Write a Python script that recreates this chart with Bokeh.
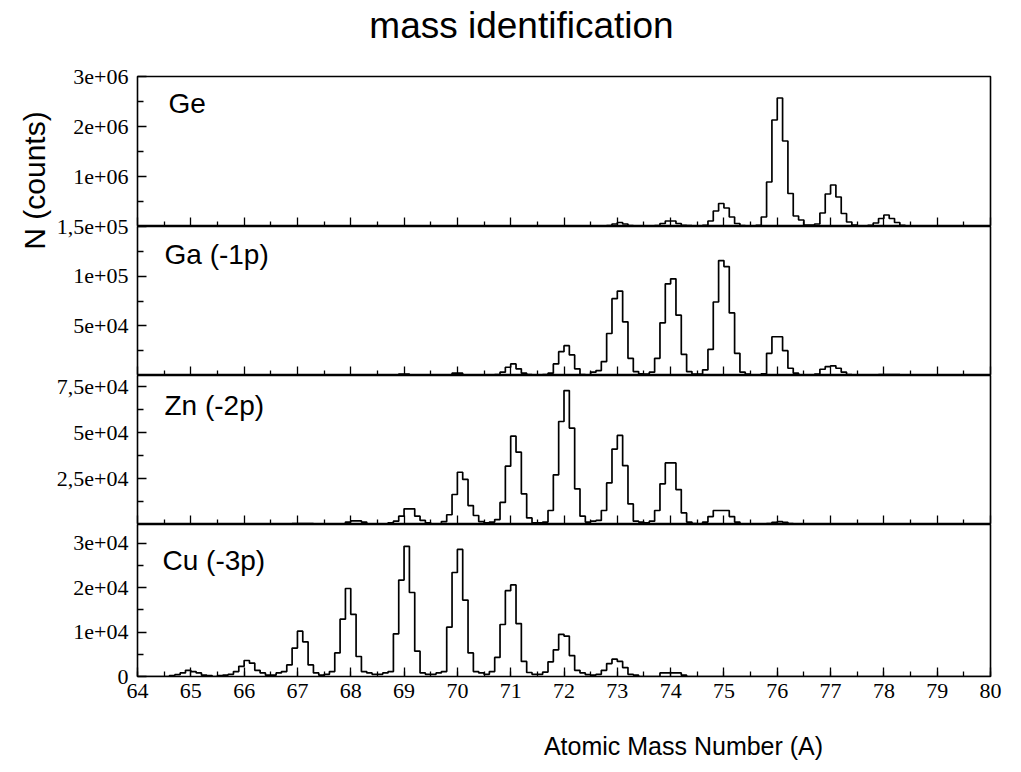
import numpy as np
from bokeh.plotting import figure
from bokeh.models import (Range1d, FixedTicker, SingleIntervalTicker, Label,
                          LinearAxis, ColumnDataSource)
from bokeh.layouts import column, row
from bokeh.embed import file_html
from bokeh.resources import INLINE

# ---------------- data ----------------
TITLE = "mass identification"
X_LABEL = "Atomic Mass Number (A)"
Y_LABEL = "N (counts)"
X_START, X_END = 64, 80

PANEL_NAMES = ["Ge", "Ga (-1p)", "Zn (-2p)", "Cu (-3p)"]
Y_MAX = [3.0e6, 1.5e5, 8.1e4, 3.42e4]

GE_YTICKS = [1e6, 2e6, 3e6]
GE_YLABELS = ["1e+06", "2e+06", "3e+06"]
GE_YMINOR = [5e5, 1.5e6, 2.5e6]
GA_YTICKS = [5e4, 1e5, 1.5e5]
GA_YLABELS = ["5e+04", "1e+05", "1,5e+05"]
GA_YMINOR = [2.5e4, 7.5e4, 1.25e5]
ZN_YTICKS = [2.5e4, 5e4, 7.5e4]
ZN_YLABELS = ["2,5e+04", "5e+04", "7,5e+04"]
ZN_YMINOR = [1.25e4, 3.75e4, 6.25e4]
CU_YTICKS = [0, 1e4, 2e4, 3e4]
CU_YLABELS = ["0", "1e+04", "2e+04", "3e+04"]
CU_YMINOR = [5e3, 1.5e4, 2.5e4]

# counts per 0.1-wide bin; each list covers bins with left edges A-0.5 ... A+0.4
GE_PEAKS = {
    70: [0, 0, 0, 0, 0, 0, 0, 1e4, 1e4, 1e4],
    71: [1e4, 1e4, 0, 0, 0, 0, 0, 0, 0, 0],
    72: [0, 0, 0, 0, 1e4, 1e4, 1e4, 0, 0, 0],
    73: [0, 0, 1.5e4, 2e4, 5e4, 8e4, 5e4, 2e4, 1e4, 0],
    74: [0, 1e4, 2e4, 6e4, 1.1e5, 1.1e5, 6e4, 2.5e4, 2e4, 0],
    75: [1e4, 2.5e4, 1.1e5, 3.1e5, 4.6e5, 3.7e5, 1.9e5, 6e4, 2e4, 1e4],
    76: [1e4, 2.5e4, 1.9e5, 8.9e5, 2.13e6, 2.57e6, 1.71e6, 6.6e5, 2.1e5, 1.3e5],
    77: [3e4, 3e4, 5e4, 2.7e5, 6.5e5, 8.3e5, 5.9e5, 2.6e5, 9e4, 3e4],
    78: [0, 1e4, 2.5e4, 7e4, 1.6e5, 2.3e5, 1.6e5, 8e4, 2.5e4, 0],
    79: [0, 0, 0, 0, 1.5e4, 1.5e4, 1.5e4, 1.5e4, 0, 0],
}
GA_PEAKS = {
    69: [0, 0, 0, 0, 1.5e3, 1.5e3, 0.7e3, 0.7e3, 0.7e3, 0.7e3],
    70: [0.7e3, 0.7e3, 0.7e3, 0.7e3, 2.3e3, 2.3e3, 0.7e3, 0.7e3, 0.7e3, 0.7e3],
    71: [0.7e3, 0.7e3, 1e3, 3.3e3, 8.3e3, 11.7e3, 6.7e3, 2.3e3, 1e3, 0.5e3],
    72: [0.5e3, 1e3, 2.3e3, 11.7e3, 24e3, 30e3, 20.7e3, 6.7e3, 1e3, 0.5e3],
    73: [3.3e3, 5e3, 14e3, 42.3e3, 77.3e3, 85e3, 54e3, 17.3e3, 4e3, 1.7e3],
    74: [1.3e3, 3.3e3, 17.3e3, 53e3, 92.3e3, 97.3e3, 60.7e3, 21.3e3, 4e3, 1.3e3],
    75: [1.5e3, 5.7e3, 26.3e3, 74e3, 115.7e3, 109.7e3, 63e3, 22.3e3, 3.3e3, 1.3e3],
    76: [0.7e3, 0.7e3, 1.7e3, 22.3e3, 39e3, 39e3, 25e3, 7.3e3, 2.3e3, 0.7e3],
    77: [0.5e3, 0.5e3, 1.3e3, 6.3e3, 9e3, 9.7e3, 7.3e3, 3.3e3, 1e3, 0.5e3],
    78: [0, 0, 0, 0, 1e3, 1e3, 1e3, 1e3, 0, 0],
}
ZN_PEAKS = {
    67: [0, 0, 0, 0, 0.5e3, 0.5e3, 0.5e3, 0.5e3, 0, 0],
    68: [0, 0, 0, 0.4e3, 1.3e3, 2e3, 2e3, 1.3e3, 0.4e3, 0],
    69: [0, 0, 0.9e3, 1.8e3, 4.5e3, 8.5e3, 8.5e3, 4.5e3, 2.2e3, 0.9e3],
    70: [0.4e3, 0.4e3, 1.6e3, 5.3e3, 16.3e3, 28.4e3, 24.5e3, 10.3e3, 4.9e3, 1.6e3],
    71: [0.9e3, 1.3e3, 2.7e3, 12e3, 31.7e3, 48e3, 39.3e3, 16.7e3, 3.6e3, 0.9e3],
    72: [0.9e3, 1.3e3, 7.6e3, 27e3, 56e3, 72.8e3, 52.4e3, 19.4e3, 4.5e3, 1.3e3],
    73: [1.8e3, 2.2e3, 7.6e3, 22.6e3, 41e3, 48.4e3, 32e3, 11.2e3, 1.8e3, 1.3e3],
    74: [0.9e3, 1.8e3, 7.6e3, 22.1e3, 33.5e3, 33.5e3, 19e3, 6.3e3, 1.3e3, 0.5e3],
    75: [0.4e3, 1.3e3, 4.3e3, 7.6e3, 7.6e3, 7.6e3, 4.3e3, 1.3e3, 0.4e3, 0],
    76: [0, 0, 0, 0.5e3, 1.2e3, 1.6e3, 1.2e3, 0.5e3, 0, 0],
}
CU_PEAKS = {
    65: [0, 0.2e3, 0.4e3, 0.8e3, 1.4e3, 1.1e3, 0.8e3, 0.3e3, 0.2e3, 0],
    66: [0.2e3, 0.3e3, 0.5e3, 1.1e3, 2.3e3, 3.6e3, 3e3, 1.4e3, 0.8e3, 0.3e3],
    67: [0.3e3, 0.8e3, 1.1e3, 2.6e3, 6.4e3, 10.2e3, 7.8e3, 2.6e3, 0.8e3, 0.3e3],
    68: [0.5e3, 1.1e3, 5.3e3, 12.9e3, 19.8e3, 14e3, 4.5e3, 1.1e3, 0.8e3, 0.5e3],
    69: [0.5e3, 0.8e3, 1.1e3, 9.6e3, 21.7e3, 29.3e3, 18.9e3, 5.7e3, 0.8e3, 0.5e3],
    70: [0.5e3, 0.8e3, 1.1e3, 11.1e3, 23.4e3, 28.6e3, 17.2e3, 5.3e3, 1.1e3, 0.8e3],
    71: [0.5e3, 1.1e3, 4.3e3, 11.7e3, 19.3e3, 20.6e3, 11.9e3, 3.4e3, 0.9e3, 0.5e3],
    72: [0.5e3, 1e3, 3.3e3, 6e3, 9.5e3, 9.1e3, 4.7e3, 1.4e3, 0.8e3, 0.4e3],
    73: [0.3e3, 0.5e3, 1.4e3, 2.9e3, 3.9e3, 3.4e3, 2e3, 0.5e3, 0.3e3, 0],
    74: [0, 0, 0, 0.8e3, 0.8e3, 0.8e3, 0.8e3, 0.3e3, 0, 0],
}

PEAKS = [GE_PEAKS, GA_PEAKS, ZN_PEAKS, CU_PEAKS]
YTICKS = [GE_YTICKS, GA_YTICKS, ZN_YTICKS, CU_YTICKS]
YLABELS = [GE_YLABELS, GA_YLABELS, ZN_YLABELS, CU_YLABELS]
YMINOR = [GE_YMINOR, GA_YMINOR, ZN_YMINOR, CU_YMINOR]

# ---------------- style / layout ----------------
SANS = "Liberation Sans"
SERIF = "Liberation Serif"
N_BINS = 160
PAGE_W, PAGE_H = 1021, 772
LEFT_STRIP = 52          # strip holding the rotated y-axis title
TITLE_H = 64             # strip holding the chart title
XLABEL_H = 56            # strip holding the x-axis title
FRAME_LEFT = 137         # page x of the panels' left edge
FRAME_W = 853
FRAME_H = [150, 149, 149, 152]
BORDER_L = FRAME_LEFT - LEFT_STRIP
BORDER_R = PAGE_W - FRAME_LEFT - FRAME_W
LABEL_DX = [31, 27, 27, 25]
LABEL_DY = [-27, -28, -30, -36]
X_MAJOR = list(np.arange(X_START, X_END + 1, 1.0))
X_MINOR = list(np.arange(X_START + 0.5, X_END, 1.0))


def histogram(peaks):
    edges = np.round(X_START + 0.1 * np.arange(N_BINS + 1), 1)
    counts = np.zeros(N_BINS + 1)
    for a, vals in peaks.items():
        start = int(round((a - 0.5 - X_START) * 10))
        for k, v in enumerate(vals):
            counts[start + k] = v
    return edges, counts


def style_ticks(ax):
    ax.axis_line_color = None
    ax.major_tick_out = 0
    ax.minor_tick_out = 0
    ax.major_tick_line_width = 1.3
    ax.minor_tick_line_width = 1.3
    ax.major_tick_line_color = "black"
    ax.minor_tick_line_color = "black"


def text_strip(width, height, x_range, y_range, label, **kw):
    """A bare figure used only as a canvas for one text."""
    p = figure(width=width, height=height, x_range=x_range, y_range=y_range,
               output_backend="svg", toolbar_location=None,
               min_border=0, outline_line_color=None, **kw)
    p.axis.visible = False
    p.grid.visible = False
    p.border_fill_alpha = 0
    p.background_fill_alpha = 0
    p.add_layout(label)
    return p


def make_panel(i):
    last = i == 3
    p = figure(frame_width=FRAME_W, frame_height=FRAME_H[i],
               x_range=Range1d(X_START, X_END), y_range=Range1d(0, Y_MAX[i]),
               output_backend="svg", toolbar_location=None,
               min_border_left=BORDER_L, min_border_right=BORDER_R,
               min_border_top=0, min_border_bottom=0)
    p.border_fill_alpha = 0
    p.outline_line_color = "black"
    p.outline_line_width = 1.6
    p.xgrid.visible = False
    p.ygrid.visible = False

    edges, counts = histogram(PEAKS[i])
    src = ColumnDataSource(dict(x=edges, y=counts))
    p.step(x="x", y="y", source=src, mode="after", line_color="black",
           line_width=1.7)

    xa = p.xaxis[0]
    style_ticks(xa)
    if last:
        xa.ticker = SingleIntervalTicker(interval=1, num_minor_ticks=2)
        xa.major_tick_in = 9
        xa.minor_tick_in = 5
        xa.major_label_text_font = SERIF
        xa.major_label_text_font_size = "22px"
        xa.major_label_text_color = "black"
        xa.major_label_standoff = 7
    else:
        # tick marks only (no labels) on the inner panels
        xa.ticker = FixedTicker(ticks=[], minor_ticks=X_MAJOR)
        xa.minor_tick_in = 9
        xa.major_tick_in = 0
        xa.major_label_standoff = 0
        xb = LinearAxis(ticker=FixedTicker(ticks=[], minor_ticks=X_MINOR),
                        major_label_standoff=0)
        style_ticks(xb)
        xb.minor_tick_in = 5
        xb.major_tick_in = 0
        p.add_layout(xb, "below")

    ya = p.yaxis[0]
    ya.ticker = FixedTicker(ticks=YTICKS[i], minor_ticks=YMINOR[i])
    ya.major_label_overrides = dict(zip(YTICKS[i], YLABELS[i]))
    style_ticks(ya)
    ya.major_tick_in = 9
    ya.minor_tick_in = 6
    ya.major_label_text_font = SERIF
    ya.major_label_text_font_size = "22px"
    ya.major_label_text_color = "black"
    ya.major_label_standoff = 9

    p.add_layout(Label(x=X_START, y=Y_MAX[i], x_offset=LABEL_DX[i],
                       y_offset=LABEL_DY[i], text=PANEL_NAMES[i],
                       text_font=SANS, text_font_size="28px",
                       text_baseline="middle", text_align="left",
                       text_color="black"))

    if i == 0:
        p.min_border_top = 12          # room for the "3e+06" label
    if i == 1:
        p.min_border_top = 12          # room for the "1,5e+05" label
        p.margin = (-12, 0, 0, 0)
    if last:
        p.min_border_bottom = 40
    return p


panels = [make_panel(i) for i in range(4)]

# strips for title / axis titles; their ranges are expressed in page pixels.
# In the column their frames line up with the panels' frames (x 137..990).
main_w = PAGE_W - LEFT_STRIP
strip_x = Range1d(FRAME_LEFT, FRAME_LEFT + FRAME_W)
title_fig = text_strip(main_w, TITLE_H, strip_x, Range1d(TITLE_H, 0),
                       Label(x=521, y=25, text=TITLE, text_font=SANS,
                             text_font_size="37px", text_align="center",
                             text_baseline="middle", text_color="black"))
xlabel_fig = text_strip(main_w, XLABEL_H,
                        Range1d(FRAME_LEFT, FRAME_LEFT + FRAME_W),
                        Range1d(PAGE_H, PAGE_H - XLABEL_H),
                        Label(x=683, y=745, text=X_LABEL, text_font=SANS,
                              text_font_size="25px", text_align="center",
                              text_baseline="middle", text_color="black"))
ylabel_fig = text_strip(LEFT_STRIP, PAGE_H, Range1d(0, LEFT_STRIP),
                        Range1d(PAGE_H, 0),
                        Label(x=34, y=180, angle=np.pi / 2, text=Y_LABEL,
                              text_font=SANS, text_font_size="30px",
                              text_align="center", text_baseline="middle",
                              text_color="black"))

layout = row(ylabel_fig,
             column(title_fig, *panels, xlabel_fig, spacing=0),
             spacing=0)

open("out.html", "w").write(file_html(layout, INLINE))
